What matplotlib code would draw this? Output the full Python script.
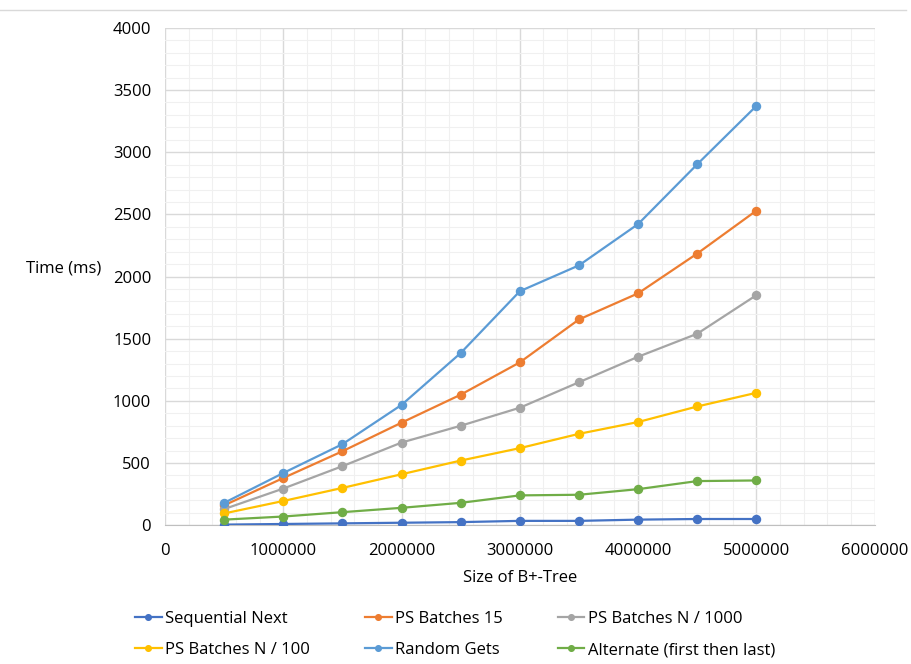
import matplotlib.pyplot as plt
from matplotlib.ticker import MultipleLocator
from matplotlib.lines import Line2D

plt.rcParams['font.family'] = ['Open Sans', 'DejaVu Sans']

sizes = [500000, 1000000, 1500000, 2000000, 2500000,
         3000000, 3500000, 4000000, 4500000, 5000000]

sequential_next = [5, 10, 15, 20, 25, 35, 35, 45, 50, 50]
ps_batches_15 = [160, 380, 595, 825, 1050, 1310, 1655, 1865, 2185, 2530]
ps_batches_n1000 = [130, 295, 475, 665, 800, 945, 1150, 1355, 1540, 1850]
ps_batches_n100 = [95, 195, 300, 410, 520, 620, 735, 830, 955, 1065]
random_gets = [180, 420, 652, 968, 1385, 1882, 2090, 2422, 2903, 3372]
alternate = [45, 70, 105, 140, 180, 240, 245, 290, 355, 360]

series = [
    ("Sequential Next", sequential_next, "#4472C4"),
    ("PS Batches 15", ps_batches_15, "#ED7D31"),
    ("PS Batches N / 1000", ps_batches_n1000, "#A5A5A5"),
    ("PS Batches N / 100", ps_batches_n100, "#FFC000"),
    ("Random Gets", random_gets, "#5B9BD5"),
    ("Alternate (first then last)", alternate, "#70AD47"),
]

fig = plt.figure(figsize=(9.12, 6.64), dpi=100)
ax = fig.add_axes([0.181, 0.209, 0.778, 0.749])

handles = {}
for name, vals, col in series:
    h, = ax.plot(sizes, vals, color=col, lw=1.6, marker='o', ms=5.8,
                 label=name, zorder=3)
    handles[name] = h

ax.set_xlim(0, 6000000)
ax.set_ylim(0, 4000)
ax.xaxis.set_major_locator(MultipleLocator(1000000))
ax.xaxis.set_minor_locator(MultipleLocator(200000))
ax.yaxis.set_major_locator(MultipleLocator(500))
ax.yaxis.set_minor_locator(MultipleLocator(100))
ax.xaxis.set_major_formatter(plt.FuncFormatter(lambda v, p: "%d" % v))
ax.grid(which='major', color='#D9D9D9', lw=1.0, zorder=0)
ax.grid(which='minor', color='#F0F0F0', lw=0.8, zorder=0)
ax.set_axisbelow(True)

for s in ['top', 'right', 'left']:
    ax.spines[s].set_visible(False)
ax.spines['bottom'].set_color('#BFBFBF')
ax.tick_params(which='both', length=0, labelsize=12, colors='#000000')
ax.tick_params(axis='x', pad=13)
ax.tick_params(axis='y', pad=10)

ax.set_xlabel("Size of B+-Tree", fontsize=12, labelpad=8)
ax.set_ylabel("Time (ms)", fontsize=12, rotation=0, labelpad=0)
ax.yaxis.set_label_coords(-0.143, 0.5)

# legend goes column-wise, so reorder for excel-style rows
order = ["Sequential Next", "PS Batches N / 100", "PS Batches 15",
         "Random Gets", "PS Batches N / 1000", "Alternate (first then last)"]
fig.legend([handles[n] for n in order], order, ncol=3, loc='center',
           bbox_to_anchor=(0.499, 0.044), frameon=False, fontsize=12,
           handlelength=1.6, handletextpad=0.2, columnspacing=3.3,
           markerscale=0.7, labelspacing=0.9)

fig.add_artist(Line2D([0.0, 0.993], [0.985, 0.985], color='#D9D9D9', lw=1,
                      transform=fig.transFigure))

fig.savefig("out.png", dpi=100)
